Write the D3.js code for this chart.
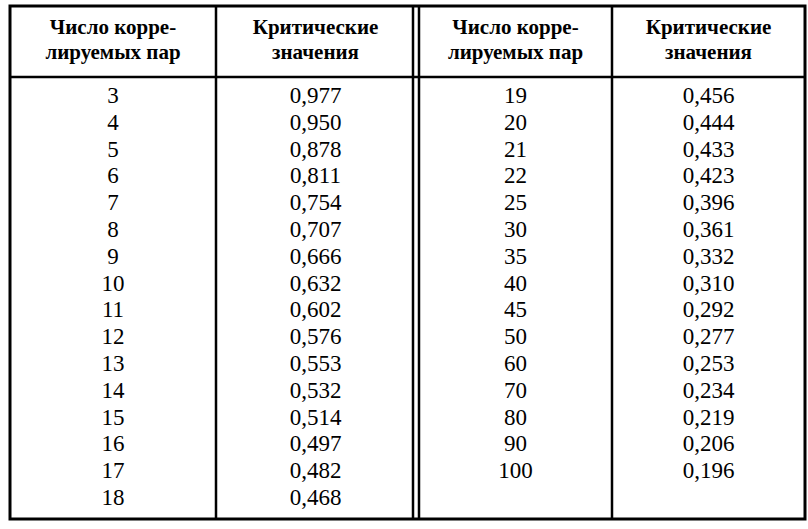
<!DOCTYPE html>
<html><head><meta charset="utf-8">
<script src="https://cdn.jsdelivr.net/npm/d3@7"></script>
<style>body{margin:0;background:#fff}</style>
</head><body>
<script>
// Table data
var headers = [["Число корре-", "лируемых пар"], ["Критические", "значения"], ["Число корре-", "лируемых пар"], ["Критические", "значения"]];
var pairsLeft = ["3","4","5","6","7","8","9","10","11","12","13","14","15","16","17","18"];
var valuesLeft = ["0,977","0,950","0,878","0,811","0,754","0,707","0,666","0,632","0,602","0,576","0,553","0,532","0,514","0,497","0,482","0,468"];
var pairsRight = ["19","20","21","22","25","30","35","40","45","50","60","70","80","90","100"];
var valuesRight = ["0,456","0,444","0,433","0,423","0,396","0,361","0,332","0,310","0,292","0,277","0,253","0,234","0,219","0,206","0,196"];

var W = 808, H = 529;
var FONT = "'Liberation Serif', 'DejaVu Serif', 'Times New Roman', serif";
var svg = d3.select("body").append("svg").attr("width", W).attr("height", H);

var xLeft = 10, xRight = 805, yTop = 6, headBottom = 77, yBottom = 519;
var colEdges = [xLeft, 216, 415, 612, xRight];
var colMid = colEdges.slice(0, 4).map(function(x, i){ return (x + colEdges[i+1]) / 2; });
colMid[2] += 2;

var y = d3.scaleLinear().domain([0, 15]).range([95, 497]);

// borders
svg.append("rect").attr("x", xLeft).attr("y", yTop).attr("width", xRight-xLeft).attr("height", yBottom-yTop)
    .attr("fill", "none").attr("stroke", "#000").attr("stroke-width", 3);
svg.append("line").attr("x1", xLeft).attr("x2", xRight).attr("y1", headBottom).attr("y2", headBottom)
    .attr("stroke", "#000").attr("stroke-width", 2.5);
[216, 612, 413, 419].forEach(function(x){
    svg.append("line").attr("x1", x).attr("x2", x).attr("y1", yTop).attr("y2", yBottom).attr("stroke", "#000").attr("stroke-width", 2.5);
});

// headers
headers.forEach(function(h, i){
    var t = svg.append("text").attr("text-anchor", "middle")
        .style("font-family", FONT).style("font-size", "21px").style("font-weight", "bold");
    h.forEach(function(line, j){
        t.append("tspan").attr("x", colMid[i]).attr("y", 34 + j*25).text(line);
    });
});

// body cells
function column(data, ci){
    svg.selectAll(null).data(data).enter().append("text")
        .attr("x", colMid[ci]).attr("y", function(d, i){ return y(i); })
        .attr("dy", "0.35em").attr("text-anchor", "middle")
        .style("font-family", FONT).style("font-size", "23px")
        .text(function(d){ return d; });
}
column(pairsLeft, 0);
column(valuesLeft, 1);
column(pairsRight, 2);
column(valuesRight, 3);
</script>
</body></html>
